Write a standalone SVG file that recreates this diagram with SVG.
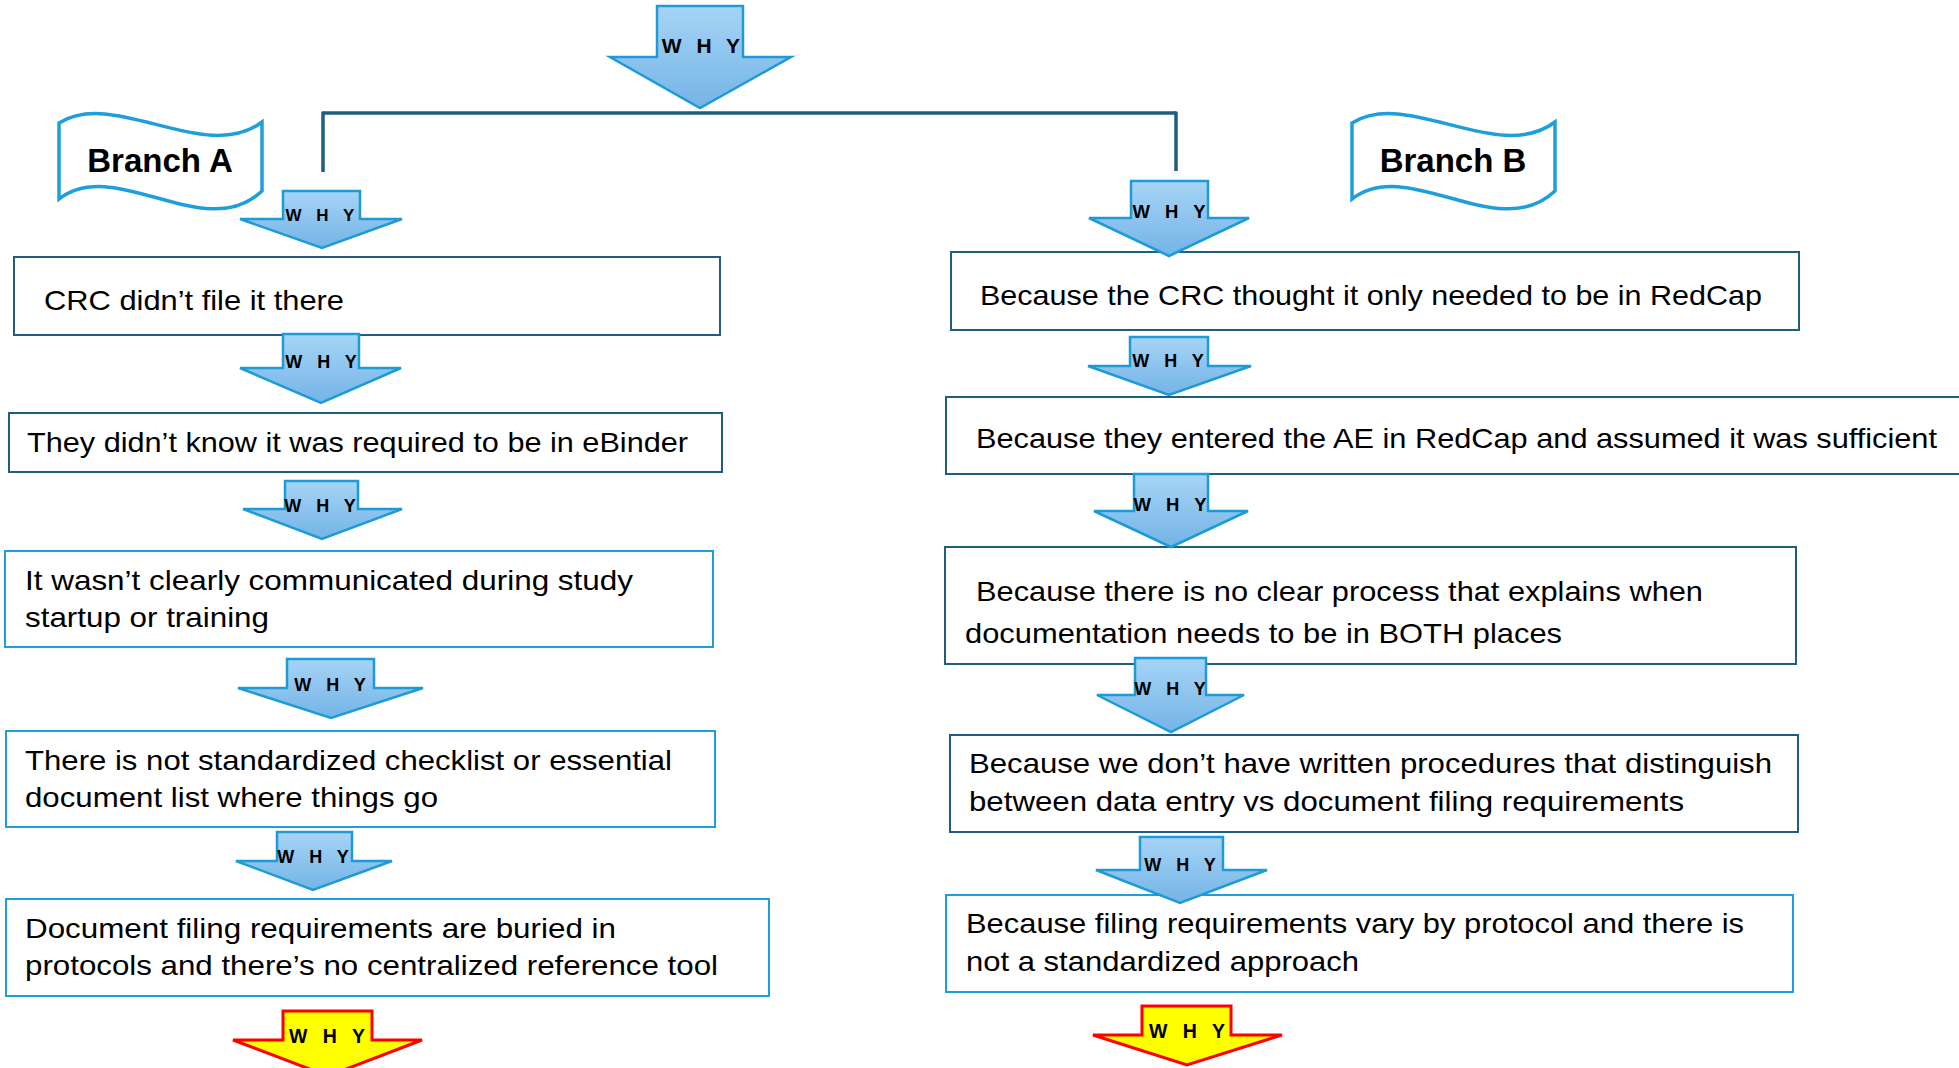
<svg xmlns="http://www.w3.org/2000/svg" width="1959" height="1068" viewBox="0 0 1959 1068">
<defs>
<linearGradient id="blueGrad" x1="0" y1="0" x2="0" y2="1">
<stop offset="0" stop-color="#A6D4F6"/>
<stop offset="1" stop-color="#74B4E6"/>
</linearGradient>
</defs>
<style>
.box{fill:#FFFFFF;stroke-width:2}
.dark{stroke:#1F5E80}
.bright{stroke:#1E9FDA}
.txt{font-family:"Liberation Sans",Arial,sans-serif;font-size:28px;fill:#000000}
.arrow{fill:url(#blueGrad);stroke:#1E9AD6;stroke-width:2.5;stroke-linejoin:miter}
.yarrow{fill:#FFFF00;stroke:#FF0000;stroke-width:3}
.why{font-family:"Liberation Sans",Arial,sans-serif;font-weight:bold;font-size:18px;fill:#000000;text-anchor:middle;word-spacing:10px}
.banner{fill:#FFFFFF;stroke:#1E9FDA;stroke-width:3.5}
.btxt{font-family:"Liberation Sans",Arial,sans-serif;font-weight:bold;font-size:33px;fill:#000000;text-anchor:middle}
.conn{fill:none;stroke:#1D5F7E;stroke-width:3.5}
</style>
<rect width="1959" height="1068" fill="#FFFFFF"/>

<g id="connectors">
<path class="conn" d="M323,113 H1176"/>
<path class="conn" d="M323,111.5 V172"/>
<path class="conn" d="M1176,111.5 V171"/>
</g>

<g id="branch-a">
<path class="banner" d="M59,123 C115,88 205,165 262,122 L262,191 C205,245 115,155 59,199 Z"/>
<text class="btxt" x="160" y="172">Branch A</text>
</g>
<g id="branch-b">
<path class="banner" d="M1352,123 C1408,88 1498,165 1555,122 L1555,191 C1498,245 1408,155 1352,199 Z"/>
<text class="btxt" x="1453" y="172">Branch B</text>
</g>

<g id="box-a1">
<rect class="box dark" x="14" y="257" width="706" height="78"/>
<text class="txt" x="44" y="310" textLength="300" lengthAdjust="spacingAndGlyphs">CRC didn’t file it there</text>
</g>
<g id="box-a2">
<rect class="box dark" x="9" y="413" width="713" height="59"/>
<text class="txt" x="27" y="452" textLength="661" lengthAdjust="spacingAndGlyphs">They didn’t know it was required to be in eBinder</text>
</g>
<g id="box-a3">
<rect class="box bright" x="5" y="551" width="708" height="96"/>
<text class="txt" x="25" y="590" textLength="608" lengthAdjust="spacingAndGlyphs">It wasn’t clearly communicated during study</text>
<text class="txt" x="25" y="627" textLength="244" lengthAdjust="spacingAndGlyphs">startup or training</text>
</g>
<g id="box-a4">
<rect class="box bright" x="6" y="731" width="709" height="96"/>
<text class="txt" x="25" y="770" textLength="647" lengthAdjust="spacingAndGlyphs">There is not standardized checklist or essential</text>
<text class="txt" x="25" y="807" textLength="413" lengthAdjust="spacingAndGlyphs">document list where things go</text>
</g>
<g id="box-a5">
<rect class="box bright" x="6" y="899" width="763" height="97"/>
<text class="txt" x="25" y="938" textLength="591" lengthAdjust="spacingAndGlyphs">Document filing requirements are buried in</text>
<text class="txt" x="25" y="975" textLength="693" lengthAdjust="spacingAndGlyphs">protocols and there’s no centralized reference tool</text>
</g>

<g id="box-b1">
<rect class="box dark" x="951" y="252" width="848" height="78"/>
<text class="txt" x="980" y="305" textLength="782" lengthAdjust="spacingAndGlyphs">Because the CRC thought it only needed to be in RedCap</text>
</g>
<g id="box-b2">
<rect class="box dark" x="946" y="397" width="1020" height="77"/>
<text class="txt" x="976" y="448" textLength="961" lengthAdjust="spacingAndGlyphs">Because they entered the AE in RedCap and assumed it was sufficient</text>
</g>
<g id="box-b3">
<rect class="box dark" x="945" y="547" width="851" height="117"/>
<text class="txt" x="976" y="601" textLength="727" lengthAdjust="spacingAndGlyphs">Because there is no clear process that explains when</text>
<text class="txt" x="965" y="643" textLength="597" lengthAdjust="spacingAndGlyphs">documentation needs to be in BOTH places</text>
</g>
<g id="box-b4">
<rect class="box dark" x="950" y="735" width="848" height="97"/>
<text class="txt" x="969" y="773" textLength="803" lengthAdjust="spacingAndGlyphs">Because we don’t have written procedures that distinguish</text>
<text class="txt" x="969" y="811" textLength="715" lengthAdjust="spacingAndGlyphs">between data entry vs document filing requirements</text>
</g>
<g id="box-b5">
<rect class="box bright" x="946" y="895" width="847" height="97"/>
<text class="txt" x="966" y="933" textLength="778" lengthAdjust="spacingAndGlyphs">Because filing requirements vary by protocol and there is</text>
<text class="txt" x="966" y="971" textLength="393" lengthAdjust="spacingAndGlyphs">not a standardized approach</text>
</g>

<g id="why-top">
<polygon class="arrow" points="657,6 743,6 743,57 791,57 700,108 610,57 657,57"/>
<text class="why" x="701" y="53" style="font-size:21px;word-spacing:9px">W H Y</text>
</g>
<g id="why-a1">
<polygon class="arrow" points="283,191 360,191 360,219 402,219 322,248 240,219 283,219"/>
<text class="why" x="320" y="221" style="font-size:17px">W H Y</text>
</g>
<g id="why-a2">
<polygon class="arrow" points="283,334 359,334 359,368 401,368 321,403 240,368 283,368"/>
<text class="why" x="321" y="368">W H Y</text>
</g>
<g id="why-a3">
<polygon class="arrow" points="285,481 358,481 358,509 402,509 322,539 243,509 285,509"/>
<text class="why" x="320" y="512">W H Y</text>
</g>
<g id="why-a4">
<polygon class="arrow" points="287,659 374,659 374,688 423,688 331,718 238,688 287,688"/>
<text class="why" x="330" y="691">W H Y</text>
</g>
<g id="why-a5">
<polygon class="arrow" points="277,832 352,832 352,861 392,861 313,890 236,861 277,861"/>
<text class="why" x="313" y="863">W H Y</text>
</g>
<g id="why-a6">
<polygon class="yarrow" points="283,1011 372,1011 372,1040 422,1040 328,1076 233,1040 283,1040"/>
<text class="why" x="327" y="1043" style="font-size:19.5px">W H Y</text>
</g>

<g id="why-b1">
<polygon class="arrow" points="1131,181 1208,181 1208,218 1249,218 1169,256 1089,218 1131,218"/>
<text class="why" x="1169" y="218" style="font-size:18.5px">W H Y</text>
</g>
<g id="why-b2">
<polygon class="arrow" points="1130,337 1208,337 1208,366 1251,366 1169,395 1088,366 1130,366"/>
<text class="why" x="1168" y="367">W H Y</text>
</g>
<g id="why-b3">
<polygon class="arrow" points="1134,474 1208,474 1208,511 1248,511 1171,547 1094,511 1134,511"/>
<text class="why" x="1170" y="511" style="font-size:18.5px">W H Y</text>
</g>
<g id="why-b4">
<polygon class="arrow" points="1135,658 1206,658 1206,695 1244,695 1171,732 1097,695 1135,695"/>
<text class="why" x="1170" y="695">W H Y</text>
</g>
<g id="why-b5">
<polygon class="arrow" points="1140,837 1223,837 1223,870 1267,870 1180,903 1096,870 1140,870"/>
<text class="why" x="1180" y="871">W H Y</text>
</g>
<g id="why-b6">
<polygon class="yarrow" points="1142,1006 1231,1006 1231,1035 1282,1035 1187,1065 1093,1035 1142,1035"/>
<text class="why" x="1187" y="1038" style="font-size:19.5px">W H Y</text>
</g>
</svg>
